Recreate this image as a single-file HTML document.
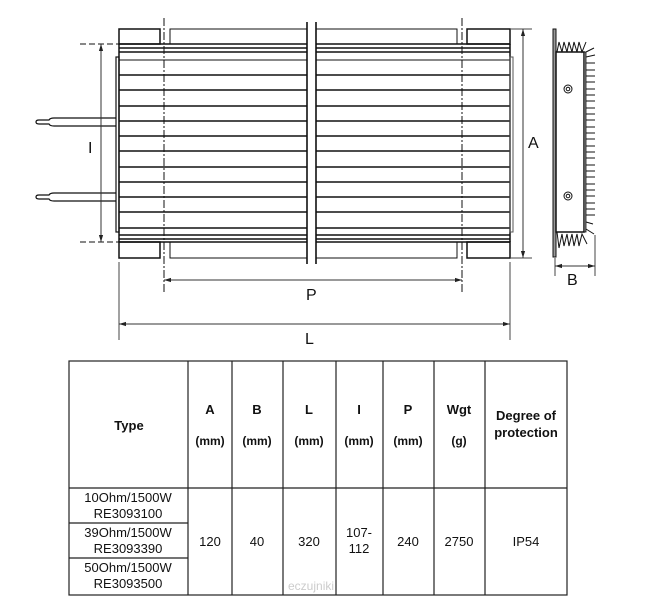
<!DOCTYPE html>
<html><head><meta charset="utf-8"><style>
html,body{margin:0;padding:0;background:#fff;}
svg{display:block;}
text{font-family:"Liberation Sans",sans-serif;fill:#111;}
</style></head><body>
<svg width="645" height="600" viewBox="0 0 645 600" xmlns="http://www.w3.org/2000/svg">
<defs>
<marker id="ar" viewBox="0 0 10 10" refX="10" refY="5" markerWidth="7" markerHeight="7" orient="auto-start-reverse"><path d="M0,2 L10,5 L0,8 z" fill="#222"/></marker>
</defs>
<g stroke="#111" fill="none">
<!-- top/bottom end blocks -->
<rect x="119" y="29" width="41" height="15" stroke-width="1.5"/>
<rect x="119" y="242" width="41" height="16" stroke-width="1.5"/>
<rect x="467" y="29" width="43" height="15" stroke-width="1.5"/>
<rect x="467" y="242" width="43" height="16" stroke-width="1.5"/>
<path d="M170,44 V29 H457 V44 M170,242 V258 H457 V242" stroke-width="1"/>
<!-- plate lines -->
<g stroke-width="1.6">
<line x1="119" y1="44" x2="510" y2="44"/>
<line x1="119" y1="48" x2="510" y2="48"/>
<line x1="119" y1="52" x2="510" y2="52"/>
<line x1="119" y1="60" x2="510" y2="60" stroke-width="1"/>
<line x1="119" y1="75" x2="510" y2="75"/>
<line x1="119" y1="90" x2="510" y2="90"/>
<line x1="119" y1="106" x2="510" y2="106"/>
<line x1="119" y1="121" x2="510" y2="121"/>
<line x1="119" y1="136" x2="510" y2="136"/>
<line x1="119" y1="151" x2="510" y2="151"/>
<line x1="119" y1="167" x2="510" y2="167"/>
<line x1="119" y1="182" x2="510" y2="182"/>
<line x1="119" y1="197" x2="510" y2="197"/>
<line x1="119" y1="212" x2="510" y2="212"/>
<line x1="119" y1="228" x2="510" y2="228"/>
<line x1="119" y1="235" x2="510" y2="235"/>
<line x1="119" y1="239" x2="510" y2="239"/>
<line x1="119" y1="242" x2="510" y2="242"/>
</g>
<line x1="119" y1="44" x2="119" y2="242" stroke-width="1.5"/>
<line x1="510" y1="44" x2="510" y2="242" stroke-width="1.5"/>
<rect x="116" y="57" width="3" height="175" stroke-width="1.2"/>
<rect x="510" y="57" width="3" height="175" stroke-width="1" stroke="#555"/>
<!-- break gap -->
<rect x="307" y="22" width="9" height="242" fill="#fff" stroke="none"/>
<line x1="307" y1="22" x2="307" y2="264" stroke-width="1.6"/>
<line x1="316" y1="22" x2="316" y2="264" stroke-width="1.6"/>
<!-- wires -->
<path d="M116,118 H54 Q50,118 49,120 H39 Q36,120 36,122 Q36,124 39,124 H49 Q50,126 54,126 H116" stroke-width="1.2"/>
<path d="M116,193 H54 Q50,193 49,195 H39 Q36,195 36,197 Q36,199 39,199 H49 Q50,201 54,201 H116" stroke-width="1.2"/>
<!-- center lines -->
<line x1="164" y1="18" x2="164" y2="293" stroke-width="1" stroke-dasharray="8,2,2,2"/>
<line x1="462" y1="18" x2="462" y2="293" stroke-width="1" stroke-dasharray="8,2,2,2"/>
<!-- I dim -->
<line x1="80" y1="44" x2="119" y2="44" stroke-width="1" stroke-dasharray="6,3"/>
<line x1="80" y1="242" x2="119" y2="242" stroke-width="1" stroke-dasharray="6,3"/>
<line x1="101" y1="44" x2="101" y2="242" stroke-width="1" stroke="#333" marker-start="url(#ar)" marker-end="url(#ar)"/>
<!-- A dim -->
<line x1="510" y1="29" x2="532" y2="29" stroke-width="1" stroke="#444"/>
<line x1="510" y1="258" x2="532" y2="258" stroke-width="1" stroke="#444"/>
<line x1="523" y1="29" x2="523" y2="258" stroke-width="1" stroke="#333" marker-start="url(#ar)" marker-end="url(#ar)"/>
<!-- P dim -->
<line x1="164" y1="280" x2="462" y2="280" stroke-width="1" stroke="#333" marker-start="url(#ar)" marker-end="url(#ar)"/>
<!-- L dim -->
<line x1="119" y1="262" x2="119" y2="340" stroke-width="1" stroke="#444"/>
<line x1="510" y1="262" x2="510" y2="340" stroke-width="1" stroke="#444"/>
<line x1="119" y1="324" x2="510" y2="324" stroke-width="1" stroke="#333" marker-start="url(#ar)" marker-end="url(#ar)"/>
<!-- side view -->
<rect x="553" y="29" width="3" height="228" fill="#999" stroke-width="1"/>
<rect x="556" y="52" width="28" height="180" stroke-width="1.5"/>
<rect x="584" y="52" width="2" height="180" fill="#888" stroke-width="0.8"/>
<path d="M557,52 L559,42 L562,52 L564,42 L567,52 L569,42 L572,52 L574,42 L577,52 L579,42 L582,52 L586,42" stroke-width="1"/>
<path d="M557,232 L559,248 L562,234 L564,246 L567,234 L569,246 L572,234 L574,246 L577,234 L579,246 L582,234 L587,244" stroke-width="1"/>
<path d="M586,52 L594,48 M586,57 L595,55 M586,63 L595,63 M586,70 L595,70 M586,76 L595,76 M586,82 L595,82 M586,89 L595,89 M586,95 L595,95 M586,101 L595,101 M586,108 L595,108 M586,114 L595,114 M586,120 L595,120 M586,127 L595,127 M586,133 L595,133 M586,139 L595,139 M586,146 L595,146 M586,152 L595,152 M586,158 L595,158 M586,165 L595,165 M586,171 L595,171 M586,177 L595,177 M586,184 L595,184 M586,190 L595,190 M586,196 L595,196 M586,203 L595,203 M586,209 L595,209 M586,215 L595,215 M586,222 L593,224 M586,229 L594,234" stroke-width="1"/>
<circle cx="568" cy="89" r="4" stroke-width="1"/><circle cx="568" cy="89" r="1.8" stroke-width="1"/>
<circle cx="568" cy="196" r="4" stroke-width="1"/><circle cx="568" cy="196" r="1.8" stroke-width="1"/>
<line x1="555" y1="258" x2="555" y2="276" stroke-width="1" stroke="#444"/>
<line x1="595" y1="235" x2="595" y2="276" stroke-width="1" stroke="#444"/>
<line x1="555" y1="266" x2="595" y2="266" stroke-width="1" stroke="#333" marker-start="url(#ar)" marker-end="url(#ar)"/>
</g>
<text x="88" y="153" font-size="16">I</text>
<text x="528" y="148" font-size="16">A</text>
<text x="306" y="300" font-size="16">P</text>
<text x="305" y="344" font-size="16">L</text>
<text x="567" y="285" font-size="16">B</text>

<!-- table -->
<g stroke="#222" stroke-width="1.2" fill="none">
<rect x="69" y="361" width="498" height="234"/>
<line x1="188" y1="361" x2="188" y2="595"/>
<line x1="232" y1="361" x2="232" y2="595"/>
<line x1="283" y1="361" x2="283" y2="595"/>
<line x1="336" y1="361" x2="336" y2="595"/>
<line x1="383" y1="361" x2="383" y2="595"/>
<line x1="434" y1="361" x2="434" y2="595"/>
<line x1="485" y1="361" x2="485" y2="595"/>
<line x1="69" y1="488" x2="567" y2="488"/>
<line x1="69" y1="523" x2="188" y2="523"/>
<line x1="69" y1="558" x2="188" y2="558"/>
</g>
<g font-size="13" font-weight="bold" text-anchor="middle">
<text x="129" y="430">Type</text>
<text x="210" y="414">A</text><text x="210" y="445" font-size="12">(mm)</text>
<text x="257" y="414">B</text><text x="257" y="445" font-size="12">(mm)</text>
<text x="309" y="414">L</text><text x="309" y="445" font-size="12">(mm)</text>
<text x="359" y="414">I</text><text x="359" y="445" font-size="12">(mm)</text>
<text x="408" y="414">P</text><text x="408" y="445" font-size="12">(mm)</text>
<text x="459" y="414">Wgt</text><text x="459" y="445" font-size="12">(g)</text>
<text x="526" y="420">Degree of</text><text x="526" y="437">protection</text>
</g>
<g font-size="13" text-anchor="middle">
<text x="128" y="502">10Ohm/1500W</text><text x="128" y="518">RE3093100</text>
<text x="128" y="537">39Ohm/1500W</text><text x="128" y="553">RE3093390</text>
<text x="128" y="572">50Ohm/1500W</text><text x="128" y="588">RE3093500</text>
<text x="210" y="546">120</text>
<text x="257" y="546">40</text>
<text x="309" y="546">320</text>
<text x="359" y="537">107-</text><text x="359" y="553">112</text>
<text x="408" y="546">240</text>
<text x="459" y="546">2750</text>
<text x="526" y="546">IP54</text>
</g>
<text x="288" y="590" font-size="12" fill="#ccc" style="fill:#ccc">eczujniki</text>
</svg>
</body></html>
